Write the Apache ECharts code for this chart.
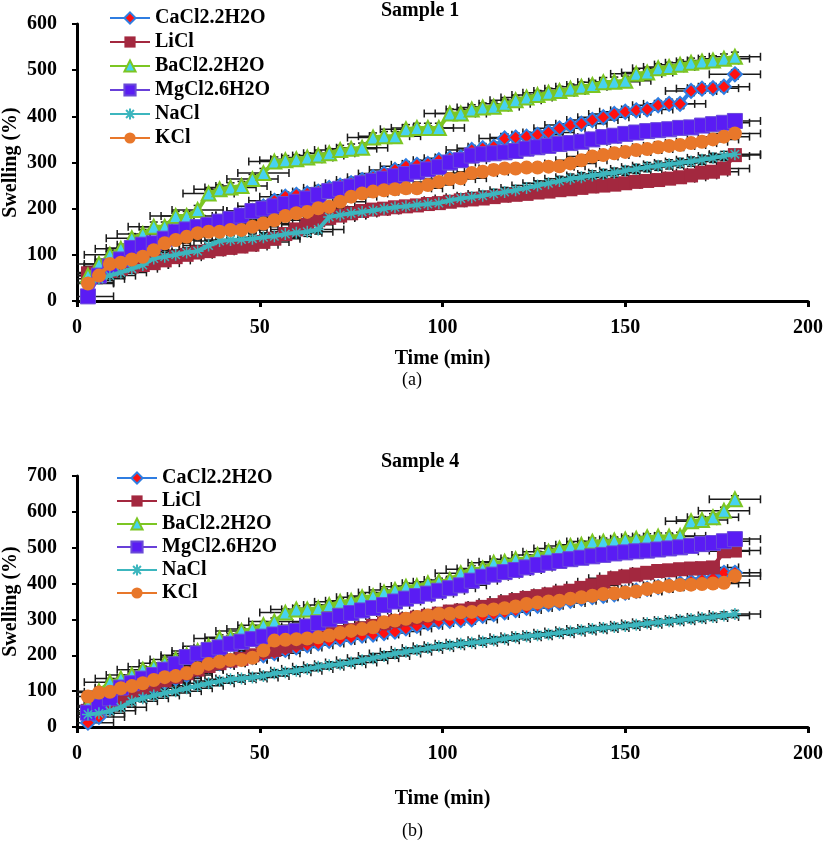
<!DOCTYPE html>
<html><head><meta charset="utf-8">
<script src="https://cdn.jsdelivr.net/npm/echarts@6/dist/echarts.min.js"></script>
<style>html,body{margin:0;padding:0;background:#fff}#c{width:825px;height:849px}</style>
</head><body><div id="c"></div>
<script>
const times = [3,6,9,12,15,18,21,24,27,30,33,36,39,42,45,48,51,54,57,60,63,66,69,72,75,78,81,84,87,90,93,96,99,102,105,108,111,114,117,120,123,126,129,132,135,138,141,144,147,150,153,156,159,162,165,168,171,174,177,180];
const seriesNames = ['CaCl2.2H2O','LiCl','BaCl2.2H2O','MgCl2.6H2O','NaCl','KCl'];

// Sample 1
const s1_CaCl2 = [40,60,75,90,100,110,120,128,135,142,150,158,166,175,185,195,205,217,226,230,233,237,245,250,255,262,268,276,284,292,295,297,305,309,311,327,331,334,352,354,356,360,365,374,381,384,392,398,405,410,413,415,424,427,427,455,460,461,464,491];
const s1_LiCl = [60,62,65,70,75,78,82,88,95,100,105,108,112,115,118,122,128,135,145,155,165,175,180,185,190,195,198,200,203,205,207,210,212,215,218,220,222,225,228,230,232,235,237,240,242,245,248,250,252,255,258,260,262,265,268,272,278,280,287,316];
const s1_BaCl2 = [55,80,100,113,136,145,161,161,184,184,197,233,242,246,249,264,277,302,305,307,311,315,320,327,330,332,354,357,357,372,375,375,375,406,406,415,419,421,427,435,441,446,451,455,460,464,468,474,475,477,492,495,504,507,512,516,519,521,525,529];
const s1_MgCl2 = [10,55,75,90,115,122,125,135,150,155,160,165,172,178,185,195,200,205,210,215,222,230,238,243,248,255,260,265,270,275,280,285,290,300,305,315,318,320,322,325,330,333,336,340,342,345,350,355,358,362,365,368,370,372,375,376,380,383,386,390];
const s1_NaCl = [40,48,55,62,70,78,92,96,100,105,108,120,130,132,133,135,138,140,145,148,150,155,182,186,190,193,196,200,203,205,208,210,212,218,222,225,228,232,236,240,245,250,255,260,265,268,272,275,278,282,286,290,293,296,299,302,306,310,314,318];
const s1_KCl = [38,55,80,83,90,96,110,125,132,139,147,150,150,154,154,161,168,175,184,190,193,201,204,215,226,233,237,240,242,244,244,251,258,264,266,277,280,284,287,287,289,289,291,292,298,305,313,316,320,323,327,329,333,336,338,342,345,350,356,363];

// Sample 4
const s4_CaCl2 = [12,28,55,75,90,105,115,125,135,145,160,172,178,185,190,195,200,206,215,222,228,233,240,245,250,255,258,262,266,275,282,290,294,296,298,300,310,315,320,326,332,338,343,346,352,358,362,366,370,375,380,385,390,395,400,405,410,415,430,430];
const s4_LiCl = [45,55,65,75,95,110,118,130,140,150,160,170,178,185,190,200,210,215,225,235,245,255,260,265,270,275,282,289,295,300,305,310,316,322,325,330,335,340,348,354,360,365,370,375,380,388,395,405,415,420,425,430,435,437,440,442,443,445,490,492];
const s4_BaCl2 = [60,100,125,135,145,160,168,178,188,200,212,225,247,250,268,273,284,294,319,328,328,331,340,349,352,362,365,375,382,391,393,401,405,410,429,440,442,458,461,468,470,480,489,498,505,508,517,517,520,523,525,529,531,531,533,574,577,585,603,635];
const s4_MgCl2 = [40,57,80,110,122,135,145,160,175,195,205,215,222,232,238,245,252,258,262,268,280,290,300,310,318,325,332,340,350,358,365,372,380,387,395,408,419,425,432,438,445,452,458,463,468,472,476,480,484,487,490,492,495,498,501,505,510,513,518,524];
const s4_NaCl = [35,38,45,55,72,80,88,95,100,108,115,122,128,133,135,138,142,150,153,157,162,168,172,175,180,186,192,198,205,210,215,220,225,228,232,235,238,242,246,250,253,256,259,263,266,270,273,276,279,282,285,289,292,295,298,301,304,307,311,315];
const s4_KCl = [85,96,98,108,114,122,131,139,142,150,164,176,182,187,187,193,213,241,243,245,247,250,255,262,268,273,278,292,297,302,307,311,315,316,320,321,325,328,331,336,343,347,350,352,358,362,366,371,373,375,378,385,390,393,396,397,399,400,402,421];

const xErr = 7, yErr = 10;

const FONT = '"Liberation Serif","Times New Roman",serif';
const styles = {
  'CaCl2.2H2O': {line:'#2f7de1', symbol:'diamond', size:14, fill:'#ff1010', border:'#2f7de1', bw:2},
  'LiCl': {line:'#a3283f', symbol:'rect', size:14, fill:'#a3283f', border:'#a3283f', bw:0},
  'BaCl2.2H2O': {line:'#7cc623', symbol:'triangle', size:14, fill:'#46d2f0', border:'#7cc623', bw:2},
  'MgCl2.6H2O': {line:'#6840d8', symbol:'rect', size:15, fill:'#5a1cf4', border:'#6a4ad8', bw:1},
  'NaCl': {line:'#3cb6be', symbol:'path://M10,0L10,20M0,10L20,10M3,3L17,17M3,17L17,3', size:12, fill:'#3cb6be', border:'#3cb6be', bw:1.5},
  'KCl': {line:'#e8772a', symbol:'circle', size:14, fill:'#e8772a', border:'#e8772a', bw:0}
};

const panel1 = [s1_CaCl2, s1_LiCl, s1_BaCl2, s1_MgCl2, s1_NaCl, s1_KCl];
const panel4 = [s4_CaCl2, s4_LiCl, s4_BaCl2, s4_MgCl2, s4_NaCl, s4_KCl];

function errRender(params, api) {
  const t = api.value(0), v = api.value(1);
  const c = api.coord([t, v]);
  const l = api.coord([t - xErr, v]);
  const r = api.coord([t + xErr, v]);
  const tp = api.coord([t, v + yErr]);
  const bt = api.coord([t, v - yErr]);
  const cap = 4;
  const st = {stroke:'#1a1a1a', lineWidth:1.5};
  return {type:'group', children:[
    {type:'line', shape:{x1:l[0], y1:c[1], x2:r[0], y2:c[1]}, style:st},
    {type:'line', shape:{x1:l[0], y1:c[1]-cap, x2:l[0], y2:c[1]+cap}, style:st},
    {type:'line', shape:{x1:r[0], y1:c[1]-cap, x2:r[0], y2:c[1]+cap}, style:st},
    {type:'line', shape:{x1:c[0], y1:tp[1], x2:c[0], y2:bt[1]}, style:st},
    {type:'line', shape:{x1:c[0]-cap, y1:tp[1], x2:c[0]+cap, y2:tp[1]}, style:st},
    {type:'line', shape:{x1:c[0]-cap, y1:bt[1], x2:c[0]+cap, y2:bt[1]}, style:st}
  ]};
}

function buildSeries(panel, idx) {
  const out = [];
  const errData = [];
  panel.forEach((vals, i) => vals.forEach((v, k) => errData.push([times[k], v])));
  out.push({type:'custom', xAxisIndex:idx, yAxisIndex:idx, renderItem:errRender, data:errData, z:1, silent:true, clip:true, encode:{x:0, y:1}});
  panel.forEach((vals, i) => {
    const name = seriesNames[i];
    const s = styles[name];
    out.push({
      type:'line', name:name, xAxisIndex:idx, yAxisIndex:idx, z:2 + i,
      data: vals.map((v, k) => [times[k], v]),
      symbol: s.symbol, symbolSize: s.size, showAllSymbol:true,
      lineStyle:{color:s.line, width:4},
      itemStyle:{color:s.fill, borderColor:s.border, borderWidth:s.bw},
      emphasis:{disabled:true}, animation:false
    });
  });
  return out;
}

const axisLbl = {color:'#000', fontFamily:FONT, fontWeight:'bold', fontSize:20};
function xAx(idx, gap) {
  return {type:'value', gridIndex:idx, min:0, max:200, interval:50,
    name:'Time (min)', nameLocation:'middle', nameGap:gap,
    nameTextStyle:{color:'#000', fontFamily:FONT, fontWeight:'bold', fontSize:20},
    axisLine:{lineStyle:{color:'#000', width:3}},
    axisTick:{show:true, length:6, lineStyle:{color:'#000', width:3}},
    splitLine:{show:false}, axisLabel:Object.assign({margin:17}, axisLbl)};
}
function yAx(idx, max) {
  return {type:'value', gridIndex:idx, min:0, max:max, interval:100,
    name:'Swelling (%)', nameLocation:'middle', nameGap:56, nameRotate:90, nameMoveOverlap:false,
    nameTextStyle:{color:'#000', fontFamily:FONT, fontWeight:'bold', fontSize:20},
    axisLine:{show:true, lineStyle:{color:'#000', width:3}},
    axisTick:{show:true, length:5, lineStyle:{color:'#000', width:2}},
    splitLine:{show:false}, axisLabel:Object.assign({margin:20}, axisLbl)};
}

const legendText = {color:'#000', fontFamily:FONT, fontWeight:'bold', fontSize:20, lineHeight:16};
const chart = echarts.init(document.getElementById('c'), null, {renderer:'canvas'});
chart.setOption({
  animation:false,
  backgroundColor:'#fff',
  grid:[
    {left:77, top:24, width:731, height:277, containLabel:false, outerBoundsMode:'none'},
    {left:77, top:476, width:731, height:251, containLabel:false, outerBoundsMode:'none'}
  ],
  xAxis:[xAx(0, 48), xAx(1, 62)],
  yAxis:[yAx(0, 600), yAx(1, 700)],
  legend:[
    {orient:'vertical', left:104, top:3, itemWidth:40, itemHeight:14, itemGap:4, data:seriesNames,
     textStyle:legendText, selectedMode:false},
    {orient:'vertical', left:111, top:463, itemWidth:40, itemHeight:14, itemGap:3, data:seriesNames,
     textStyle:legendText, selectedMode:false}
  ],
  graphic:[
    {type:'text', left:381, top:1, style:{text:'Sample 1', font:'bold 20px ' + FONT, fill:'#000'}},
    {type:'text', left:381, top:452, style:{text:'Sample 4', font:'bold 20px ' + FONT, fill:'#000'}},
    {type:'text', left:402, top:371, style:{text:'(a)', font:'18px ' + FONT, fill:'#000'}},
    {type:'text', left:402, top:822, style:{text:'(b)', font:'18px ' + FONT, fill:'#000'}}
  ],
  series: buildSeries(panel1, 0).concat(buildSeries(panel4, 1))
});
</script></body></html>
